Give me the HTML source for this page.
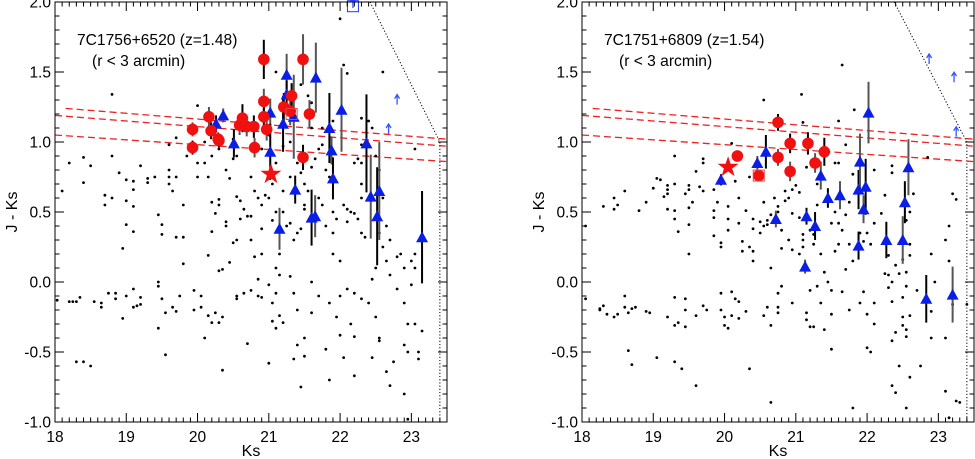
<!DOCTYPE html>
<html><head><meta charset="utf-8"><style>
html,body{margin:0;padding:0;background:#fff}
svg{display:block;font-family:"Liberation Sans",Arial,sans-serif}
</style></head><body>
<svg id="chart" width="975" height="459" viewBox="0 0 975 459" xmlns="http://www.w3.org/2000/svg"></svg>
<script>
// ---------- DATA (left panel: 7C1756+6520) ----------
const leftDotsK=[18.1,18.2,18.4,18.4,18.5,18.8,18.8,18.7,18.8,18.7,18.9,19.0,19.1,19.1,19.2,19.0,19.1,19.3,19.3,19.4,19.0,19.1,18.95,19.45,19.5,19.6,19.6,19.6,19.65,19.7,19.5,19.7,19.8,19.8,19.8,19.6,19.7,19.9,20.0,20.1,19.85,20.0,20.0,20.15,20.2,20.2,20.3,20.3,20.25,20.2,20.15,20.3,20.35,20.4,20.4,20.5,20.45,20.4,20.45,20.5,20.55,20.6,20.55,20.6,20.65,20.7,20.75,20.75,20.75,20.8,20.85,20.9,20.9,20.8,20.85,20.9,20.95,21.0,21.05,21.1,21.05,21.15,21.1,21.15,21.2,21.25,21.3,21.35,21.4,21.45,21.5,21.5,21.55,21.5,21.45,21.4,21.5,21.6,21.65,21.7,21.75,21.8,21.85,21.7,21.75,21.9,21.95,21.8,21.9,21.9,22.0,22.05,22.1,22.15,22.2,22.1,22.25,22.3,22.3,22.3,22.35,22.2,22.25,22.3,22.3,22.4,22.45,22.5,22.55,22.6,22.65,22.7,22.55,22.6,22.65,22.45,22.5,22.7,22.8,22.8,22.85,22.9,23.0,23.05,23.05,23.0,22.9,22.95,22.9,22.95,23.05,23.1,23.1,23.15,22.9,22.95,22.7,22.75,22.65,22.55,22.55,22.45,22.5,22.4,22.3,22.2,22.1,22.0,21.95,22.0,22.05,22.2,22.2,22.15,21.85,21.8,21.85,21.7,21.6,21.6,21.5,21.5,21.4,21.35,21.45,21.4,21.35,21.3,21.2,21.15,21.1,21.05,21.0,21.05,21.1,21.0,20.9,20.85,20.75,20.7,20.65,20.55,20.55,20.35,20.35,20.3,20.25,20.2,20.15,20.1,20.05,20.05,19.95,19.95,19.75,19.7,19.65,19.5,19.45,19.55,19.55,19.45,19.45,19.2,19.2,19.15,19.1,19.1,19.0,18.95,18.85,18.85,18.75,18.65,18.65,18.55,18.35,18.3,18.25,18.2,18.03,18.3,18.4,18.5,23.05,21.1,21.3,21.35,21.45,21.55,21.6,22.0,22.05,22.1,22.05,22.6,22.3,21.6,21.9,21.75,21.2,21.3,21.1,21.2,21.0,20.9,20.5,20.3,20.1,20.55];
const leftDotsC=[0.65,0.85,0.89,0.71,0.83,0.9,1.34,0.62,0.6,0.55,0.78,0.73,0.72,0.66,0.83,0.58,0.54,0.74,0.71,0.75,0.41,0.36,0.24,0.48,0.41,0.8,0.75,0.7,0.65,0.75,0.34,0.32,0.32,0.13,0.55,0.98,1.03,0.98,1.26,1.0,0.9,0.75,0.85,0.75,0.9,0.57,0.59,0.55,0.49,0.36,0.19,0.08,0.09,0.43,0.4,0.28,0.14,0.8,0.74,0.88,0.3,0.45,0.61,0.58,0.52,0.47,0.47,0.3,0.75,0.65,0.6,0.55,0.2,0.18,0.02,0.38,0.62,0.6,0.7,0.5,0.44,0.2,0.1,0.05,0.5,0.4,0.42,0.3,0.35,0.38,0.55,0.52,0.65,0.7,0.78,0.85,0.9,0.82,0.88,0.95,0.98,0.8,0.75,0.6,0.55,0.5,0.45,0.4,0.35,0.2,0.15,0.55,0.52,0.5,0.49,0.43,0.45,0.35,0.6,0.7,0.32,0.85,0.88,0.85,0.98,1.15,1.1,0.9,0.8,0.6,0.4,0.3,0.35,0.25,0.15,0.02,0.1,0.05,-0.05,0.18,0.2,0.1,0.15,0.1,0.2,-0.02,-0.15,-0.3,-0.45,-0.5,-0.3,-0.5,-0.55,-0.35,-0.8,-0.98,-0.74,-0.57,-0.64,-0.42,-0.4,-0.54,-0.25,-0.15,-0.12,-0.08,-0.05,-0.1,-0.25,-0.38,-0.54,-0.39,-0.67,-0.3,-0.15,-0.48,-0.7,-0.1,0.0,-0.22,-0.4,-0.53,-0.45,-0.55,-0.75,-0.2,-0.08,0.04,-0.29,-0.24,-0.33,-0.28,-0.58,-0.15,-0.08,-0.02,-0.11,-0.1,-0.06,-0.44,-0.08,-0.12,-0.1,-0.25,-0.63,-0.29,-0.22,-0.29,-0.24,-0.4,-0.18,-0.1,-0.06,-0.2,-0.1,-0.21,-0.18,-0.12,-0.33,-0.22,-0.52,0.0,-0.03,-0.11,-0.16,-0.17,-0.18,-0.05,-0.1,-0.26,-0.12,-0.08,-0.08,-0.15,-0.18,-0.14,-0.11,-0.14,-0.14,-0.14,-0.13,-0.57,-0.57,-0.6,0.95,1.5,1.0,1.3,1.41,1.33,1.28,1.88,1.55,1.49,1.22,1.5,1.17,1.1,1.15,1.1,0.65,0.75,0.85,0.97,1.05,0.95,1.02,0.95,0.85,0.9];
const leftRedK=[19.93,19.93,20.16,20.19,20.29,20.3,20.59,20.63,20.69,20.79,20.8,20.93,20.93,20.93,20.97,21.21,21.3,21.32,21.48,21.48,21.57];
const leftRedC=[1.09,0.96,1.18,1.08,1.02,1.01,1.12,1.17,1.11,1.11,0.96,1.59,1.29,1.18,1.09,1.25,1.22,1.33,1.59,0.89,1.2];
const leftRedE=[0.05,0.05,0.07,0.06,0.05,0.05,0.07,0.1,0.07,0.08,0.07,0.14,0.09,0.1,0.08,0.1,0.1,0.09,0.18,0.09,0.1];
const leftBlueK=[20.26,20.36,20.51,21.02,21.02,21.15,21.2,21.25,21.25,21.35,21.37,21.66,21.6,21.65,21.85,21.88,21.9,22.02,22.37,22.43,22.52,22.55,23.15];
const leftBlueC=[1.13,1.19,0.99,1.21,0.93,0.38,1.13,1.48,1.34,1.18,0.66,1.46,0.46,0.47,1.1,0.94,0.74,1.23,0.99,0.61,0.47,0.65,0.32];
const leftBlueE=[0.06,0.05,0.1,0.1,0.2,0.15,0.2,0.15,0.1,0.3,0.1,0.25,0.2,0.15,0.25,0.1,0.15,0.3,0.35,0.3,0.35,0.35,0.33];
const leftArrowK=[22.68,22.8,22.18];
const leftArrowC=[1.1,1.31,2.0];
const leftStar=[21.03,0.77];
const leftRedSquare=[21.32,1.2];
const leftBlueSquare=[22.18,1.97];

// ---------- DATA (right panel: 7C1751+6809) ----------
const rightDotsK=[18.05,18.05,18.3,18.45,18.45,18.5,18.6,18.8,18.9,19.0,19.05,19.1,19.15,19.2,19.2,19.2,19.2,19.3,19.3,19.3,19.3,19.35,19.45,19.5,19.5,19.5,19.5,19.5,19.55,19.6,19.7,19.7,19.65,19.7,19.85,19.85,19.85,19.85,19.9,19.95,19.95,20.05,20.05,20.05,20.1,20.15,20.2,20.2,20.25,20.25,20.3,20.35,20.4,20.4,20.4,20.4,20.35,20.5,20.5,20.55,20.55,20.6,20.6,20.65,20.55,20.65,20.7,20.75,20.75,20.8,20.8,20.85,20.85,20.9,20.95,20.95,20.9,20.95,21.0,21.05,21.05,21.05,21.1,21.1,21.1,21.08,21.1,21.15,21.2,21.25,21.25,21.3,21.3,21.35,21.4,21.45,21.5,21.55,21.6,21.55,21.6,21.65,21.7,21.75,21.8,21.82,21.65,21.6,21.7,21.55,21.6,21.75,21.7,21.8,21.9,21.95,22.0,22.1,22.05,22.2,22.25,22.3,22.3,22.35,22.4,22.45,22.5,22.55,22.6,22.65,22.35,22.35,22.1,22.85,22.9,22.95,22.55,22.6,22.6,22.25,22.35,22.3,22.5,22.55,22.5,22.5,22.6,22.7,22.55,22.55,22.4,22.35,22.35,22.4,22.45,22.6,22.55,22.75,22.9,22.9,23.1,23.15,23.15,23.1,23.1,23.15,23.2,23.2,23.25,23.25,23.3,23.4,23.2,22.1,22.1,22.0,22.0,22.05,21.95,21.9,21.75,21.8,21.65,21.5,21.5,21.5,21.4,21.35,21.3,21.25,21.2,21.15,21.15,21.2,20.95,20.8,20.75,20.75,20.75,20.65,20.6,20.55,20.65,20.35,20.3,20.2,20.2,20.15,20.1,20.1,20.05,20.0,20.0,19.95,19.95,19.75,19.7,19.6,19.6,19.45,19.45,19.45,19.4,19.3,19.3,19.35,19.2,19.3,19.05,18.95,18.9,18.75,18.7,18.65,18.6,18.65,18.7,18.6,18.5,18.45,18.35,18.3,18.25,18.25];
const rightDotsC=[0.4,-0.12,0.54,0.6,0.52,0.55,0.65,0.51,0.57,0.67,0.74,0.73,0.61,0.66,0.69,0.63,0.52,0.9,0.7,0.51,0.45,0.36,0.63,0.69,0.66,0.53,0.41,0.2,0.57,0.79,0.88,0.85,0.68,0.65,0.66,0.51,0.46,0.33,0.57,0.28,0.25,0.54,0.45,0.37,0.99,0.72,0.6,0.42,0.29,0.22,0.51,0.25,0.15,0.22,0.38,0.45,0.75,0.43,0.35,0.4,0.57,0.41,0.44,0.48,1.3,0.1,0.6,0.54,0.5,0.37,0.24,0.65,0.58,0.6,0.66,0.49,0.3,0.23,0.69,0.64,0.46,0.2,0.34,0.3,0.25,1.34,1.14,0.82,0.37,0.34,0.27,0.55,0.7,0.2,0.07,0.0,0.42,0.5,0.42,0.85,0.85,0.37,0.48,0.57,0.77,1.23,1.55,1.15,0.98,0.22,0.27,0.27,0.09,0.15,0.35,0.29,0.35,0.42,0.27,0.49,0.62,0.19,0.05,0.0,0.12,0.06,0.16,0.44,0.5,0.63,0.83,0.78,0.8,0.89,0.2,0.0,0.07,0.27,0.19,0.06,-0.14,-0.04,-0.11,-0.03,-0.25,-0.31,-0.24,-0.06,-0.34,-0.39,-0.36,-0.42,-0.74,-0.79,-0.6,-0.68,-0.9,-0.6,-0.4,-0.21,0.3,0.15,0.4,-0.4,-0.78,-0.97,-0.12,-0.16,0.59,-0.85,-0.86,-0.16,0.63,-0.15,-0.3,-0.23,-0.47,-0.5,-0.07,-0.15,-0.2,-0.9,-0.07,-0.06,-0.23,-0.48,-0.34,-0.15,-0.03,-0.32,-0.06,-0.22,-0.27,-0.32,-0.15,-0.03,-0.08,-0.18,-0.22,-0.31,-0.18,-0.24,-0.86,-0.62,-0.21,-0.26,-0.14,-0.12,-0.07,-0.24,-0.33,-0.31,-0.25,-0.2,-0.08,-0.2,-0.17,-0.24,-0.74,-0.12,-0.32,-0.2,-0.62,-0.11,-0.31,-0.29,-0.25,-0.57,-0.54,-0.22,-0.21,-0.18,-0.19,-0.22,-0.1,-0.49,-0.59,-0.18,-0.23,-0.25,-0.23,-0.17,-0.2,-0.19];
const rightRedK=[20.18,20.75,20.75,20.92,20.92,21.17,21.27,21.4,20.48];
const rightRedC=[0.9,1.14,0.89,0.99,0.79,0.99,0.85,0.93,0.76];
const rightRedE=[0.04,0.06,0.06,0.07,0.07,0.08,0.07,0.1,0.04];
const rightBlueK=[19.95,20.46,20.58,20.72,21.15,21.13,21.27,21.35,21.45,21.62,21.88,21.9,21.88,21.95,21.98,22.02,22.27,22.5,22.53,22.58,22.83,23.2];
const rightBlueC=[0.73,0.85,0.93,0.45,0.47,0.11,0.4,0.76,0.6,0.62,0.66,0.86,0.26,0.52,0.68,1.21,0.3,0.3,0.57,0.82,-0.12,-0.09];
const rightBlueE=[0.04,0.05,0.12,0.06,0.06,0.05,0.1,0.1,0.07,0.1,0.14,0.2,0.1,0.1,0.2,0.22,0.13,0.17,0.15,0.2,0.17,0.2];
const rightArrowK=[22.87,23.22,23.25];
const rightArrowC=[1.6,1.47,1.08];
const rightStar=[20.05,0.82];
const rightRedSquare=[20.48,0.76];

const xTicks=[18,19,20,21,22,23];
const yTicks=[-1.0,-0.5,0.0,0.5,1.0,1.5,2.0];
const yTickLabels=["-1.0","-0.5","0.0","0.5","1.0","1.5","2.0"];
</script>
<script>
const NS="http://www.w3.org/2000/svg";
const svg=document.getElementById('chart');
function mk(tag,attrs,parent){const e=document.createElementNS(NS,tag);for(const k in attrs)e.setAttribute(k,attrs[k]);(parent||svg).appendChild(e);return e;}

function panel(o){
  const g=mk('g',{});
  
  
  const L=o.left,R=o.left+392,T=2,B=422;
  const X=k=>L+(k-18)/5.5*(R-L);
  const Y=c=>B-(c+1)/3*(B-T);
  const lim=mk('path',{d:`M${X(o.diagStart)} ${Y(2)} L${X(23.4)} ${Y(1.0)} L${X(23.4)} ${Y(-1)}`,fill:'none',stroke:'#000','stroke-width':1,'stroke-dasharray':'1.2,2'},g);
  
  
  const dl=[[18.15,1.24,1.02],[18,1.19,0.97],[18,1.05,0.86]];
  dl.forEach(d=>{
    const ln=mk('line',{x1:X(d[0]),y1:Y(d[1]),x2:X(23.5),y2:Y(d[2]),stroke:'#ee2222','stroke-width':1.3,'stroke-dasharray':'7,4'},g);
    
    
  });
  o.dk.forEach((k,i)=>{
    const c=mk('circle',{cx:X(k),cy:Y(o.dc[i]),r:1.4,fill:'#000'},g);
    
    
  });
  const eb=(k,c,e,col)=>{const l=mk('line',{x1:X(k),x2:X(k),y1:Y(c-e),y2:Y(c+e),stroke:col,'stroke-width':2},g);
    
    };
  o.bk.forEach((k,i)=>eb(k,o.bc[i],o.be[i],i%2?'#555':'#000'));
  o.rk.forEach((k,i)=>eb(k,o.rc[i],o.re[i],i%2?'#000':'#555'));
  o.bk.forEach((k,i)=>{
    const x=X(k),y=Y(o.bc[i]);
    const t=mk('polygon',{points:`${x-6},${y+5} ${x+6},${y+5} ${x},${y-6}`,fill:'#0a1ee6'},g);
    
    
  });
  o.rk.forEach((k,i)=>{
    const c=mk('circle',{cx:X(k),cy:Y(o.rc[i]),r:5.8,fill:'#f01010'},g);
    
    
  });
  o.ak.forEach((k,i)=>{
    const x=X(k),y=Y(o.ac[i]);
    const a=mk('path',{d:`M${x} ${y+6} L${x} ${y-3} M${x-2.5} ${y} L${x} ${y-4} L${x+2.5} ${y}`,stroke:'#3355ff','stroke-width':1.3,fill:'none'},g);
    
    
  });
  const sq=mk('rect',{x:X(o.rs[0])-5.5,y:Y(o.rs[1])-5.5,width:11,height:11,fill:'none',stroke:'#f04040','stroke-width':1},g);
  
  
  if(o.bs){const s2=mk('rect',{x:X(o.bs[0])-5.5,y:Y(o.bs[1])-5.5,width:11,height:11,fill:'none',stroke:'#2233ff','stroke-width':1},g);
    
    }
  {const cx=X(o.st[0]),cy=Y(o.st[1]);let p=[];for(let j=0;j<10;j++){const r=j%2?4.3:11,a=-Math.PI/2+j*Math.PI/5;p.push((cx+r*Math.cos(a)).toFixed(1)+','+(cy+r*Math.sin(a)).toFixed(1));}
   const s=mk('polygon',{points:p.join(' '),fill:'#f01010'},g);
   
   }
  const fr=mk('rect',{x:L,y:T,width:R-L,height:B-T,fill:'none',stroke:'#000','stroke-width':1},g);
  
  
  let td='';
  for(let v=18;v<=23.5001;v+=0.1){const maj=Math.abs(v-Math.round(v))<1e-6;const len=maj?9:4.5;const x=X(v);td+=`M${x} ${B}V${B-len}M${x} ${T}V${T+len}`;}
  for(let v=-1;v<=2.0001;v+=0.1){const maj=Math.abs(v*2-Math.round(v*2))<1e-6;const len=maj?9:4.5;const y=Y(v);td+=`M${L} ${y}H${L+len}M${R} ${y}H${R-len}`;}
  const tk=mk('path',{d:td,stroke:'#000','stroke-width':1,fill:'none'},g);
  
  
  xTicks.forEach(v=>{const t=mk('text',{x:X(v),y:442,'text-anchor':'middle','font-size':15.5},g);t.textContent=String(v);
    
    });
  yTicks.forEach((v,i)=>{const t=mk('text',{x:L-4,y:Y(v)+5.5,'text-anchor':'end','font-size':15.5},g);t.textContent=yTickLabels[i];
    
    });
  const xt=mk('text',{x:(L+R)/2,y:456,'text-anchor':'middle','font-size':16},g);xt.textContent='Ks';
  
  
  const yt=mk('text',{x:0,y:0,'text-anchor':'middle','font-size':16,transform:`translate(${L-38},212) rotate(-90)`},g);yt.textContent='J - Ks';
  
  
  const t1=mk('text',{x:L+22,y:45,'font-size':15.6},g);t1.textContent=o.title;
  
  
  const t2=mk('text',{x:L+37,y:66,'font-size':15.6},g);t2.textContent='(r < 3 arcmin)';
  
  
}
panel({name:'left-panel',left:55,diagStart:22.42,title:'7C1756+6520 (z=1.48)',dk:leftDotsK,dc:leftDotsC,rk:leftRedK,rc:leftRedC,re:leftRedE,bk:leftBlueK,bc:leftBlueC,be:leftBlueE,ak:leftArrowK,ac:leftArrowC,st:leftStar,rs:leftRedSquare,bs:leftBlueSquare});
panel({name:'right-panel',left:582,diagStart:22.38,title:'7C1751+6809 (z=1.54)',dk:rightDotsK,dc:rightDotsC,rk:rightRedK,rc:rightRedC,re:rightRedE,bk:rightBlueK,bc:rightBlueC,be:rightBlueE,ak:rightArrowK,ac:rightArrowC,st:rightStar,rs:rightRedSquare});
</script>
</body></html>
